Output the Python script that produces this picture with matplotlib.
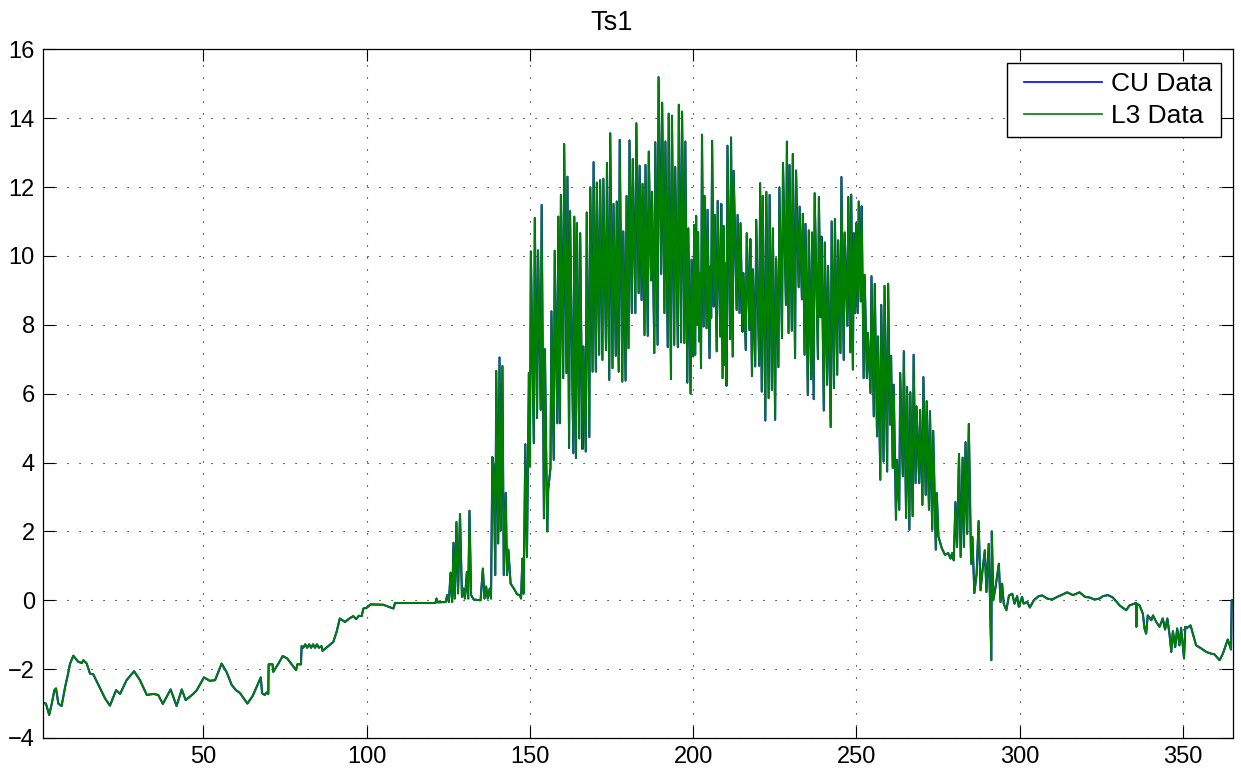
import numpy as np
import matplotlib
matplotlib.use("Agg")
import matplotlib.pyplot as plt
from matplotlib.legend_handler import HandlerLine2D

# ---- data (day of year, Ts1) ----
winter_day = [1.0, 1.8, 2.8, 3.6, 4.4, 4.9, 5.6, 6.6, 7.7, 8.5, 9.2, 10.2, 11.7, 12.8, 13.3,
              14.3, 15.3, 16.3, 18.4, 19.9, 21.4, 23.3, 24.5, 26.5, 28.8, 30.6, 32.7, 34.7,
              36.2, 37.6, 38.8, 40.0, 41.8, 43.4, 44.6, 46.9, 48.0, 50.2, 52.0, 53.6, 55.6,
              57.1, 58.7, 60.0, 61.2, 63.5, 65.1, 67.6, 68.0, 68.8, 69.4, 69.9, 70.0, 71.2,
              71.4, 73.0, 74.3, 75.7, 78.4, 78.8, 79.9, 80.1, 80.6, 81.2, 81.8, 82.4, 83.0,
              83.6, 84.2, 84.8, 85.4, 86.2, 86.5, 89.8, 90.8, 91.8, 93.4, 94.7, 95.9, 96.8,
              97.6, 98.5, 99.0, 100.0, 101.2, 105.1, 108.2, 108.7, 116.3]
winter_val = [-2.98, -3.0, -3.33, -3.0, -2.61, -2.56, -3.0, -3.07, -2.51, -2.17, -1.84, -1.61,
              -1.79, -1.82, -1.74, -1.84, -2.13, -2.15, -2.56, -2.85, -3.06, -2.61, -2.72,
              -2.32, -2.06, -2.32, -2.75, -2.72, -2.75, -3.01, -2.8, -2.59, -3.07, -2.59,
              -2.9, -2.72, -2.61, -2.24, -2.34, -2.32, -1.84, -2.08, -2.46, -2.61, -2.69,
              -3.0, -2.78, -2.24, -2.7, -2.75, -2.68, -2.72, -1.86, -1.86, -2.08, -1.84,
              -1.62, -1.69, -2.03, -1.86, -1.86, -1.33, -1.38, -1.28, -1.38, -1.28, -1.38,
              -1.28, -1.38, -1.28, -1.38, -1.33, -1.47, -1.21, -0.92, -0.53, -0.63, -0.53,
              -0.46, -0.55, -0.45, -0.46, -0.24, -0.22, -0.12, -0.13, -0.24, -0.08, -0.08]

spring_day = [116.5, 121.1, 121.4, 121.8, 124.2, 124.7, 125.2, 125.7, 126.2, 126.6, 127.0,
              127.5, 128.0, 128.6, 129.2, 129.6, 130.1, 130.7, 131.1, 131.5, 132.0, 132.8,
              134.9, 135.6, 136.1, 136.6, 137.1, 137.7, 138.1, 138.5, 138.9, 139.4, 139.7,
              140.3, 140.7, 141.1, 141.6, 142.0, 142.6, 143.0, 143.4, 144.1, 145.1, 146.1,
              146.9, 147.3, 147.7, 148.1, 148.6, 149.1, 149.7]
spring_val = [-0.08, -0.08, 0.05, -0.06, -0.05, 0.15, -0.05, 0.8, -0.05, 1.67, 0.05, 2.27,
              0.2, 2.5, 0.1, 0.34, 0.05, 0.82, 0.05, 2.6, 0.15, 0.02, 0.0, 0.92, 0.05, 0.4,
              0.05, 0.34, 0.05, 4.16, 3.9, 0.73, 6.66, 1.65, 7.05, 2.03, 6.8, 0.73, 3.12,
              0.73, 1.47, 0.48, 0.34, 0.17, 0.15, 0.05, 1.21, 0.19, 4.53, 1.26, 6.6]

# summer: one up/down swing per entry (day, daily low, daily high)
summer_day = [150.0, 151.2, 152.2, 153.3, 154.3, 155.3, 156.3, 157.3, 158.4, 159.2, 160.2,
              161.2, 162.0, 163.3, 164.1, 165.1, 166.1, 167.1, 168.2, 169.2, 170.2, 171.2,
              172.2, 173.3, 174.3, 175.3, 176.3, 177.2, 178.3, 179.3, 180.2, 181.2, 182.3,
              183.3, 184.2, 185.1, 186.1, 187.1, 188.1, 189.1, 190.2, 191.2, 192.2, 193.2,
              194.2, 195.3, 196.3, 197.3, 198.2, 199.2, 200.0, 200.6, 201.2, 201.8, 202.4,
              203.2, 204.1, 205.0, 205.5, 206.3, 207.2, 208.3, 209.0, 209.6, 210.2, 211.3,
              212.1, 213.3, 214.2, 215.1, 216.1, 217.2, 218.0, 219.0, 220.2, 221.0, 222.1,
              223.1, 224.1, 225.1, 226.1, 227.2, 228.4, 229.2, 230.2, 231.2, 232.3, 233.3,
              234.1, 235.1, 236.1, 236.9, 238.2, 239.0, 240.0, 241.0, 242.1, 243.1, 244.1,
              245.1, 246.1, 247.2, 248.1, 248.9, 249.6, 250.4, 251.3, 252.2, 253.2, 254.3,
              255.3, 256.3, 257.3, 258.3, 259.4, 260.3, 261.1, 262.1, 263.1, 264.2, 265.2,
              266.2, 267.2, 268.1, 269.2, 270.2, 271.2, 272.2, 273.2, 274.3]
summer_low = [3.88, 4.56, 5.29, 5.53, 2.38, 2.0, 3.84, 4.08, 5.14, 5.14, 6.45, 6.6, 4.42,
              4.27, 4.13, 4.7, 4.39, 4.32, 4.74, 6.64, 6.64, 7.13, 6.98, 7.27, 6.4, 6.74, 7.1,
              6.64, 6.35, 6.38, 7.32, 8.34, 8.34, 8.92, 8.72, 7.7, 7.68, 9.29, 7.18, 7.42,
              9.48, 8.34, 7.35, 6.42, 7.42, 7.35, 7.49, 7.47, 6.32, 6.0, 7.08, 7.13, 8.0,
              7.52, 6.74, 7.95, 7.9, 7.03, 8.2, 8.53, 7.23, 7.66, 6.45, 6.84, 6.23, 7.58,
              7.08, 8.43, 8.34, 7.8, 7.27, 7.85, 6.51, 6.79, 6.81, 6.06, 5.22, 5.87, 6.11,
              5.24, 6.77, 7.61, 8.58, 7.76, 7.83, 7.03, 9.09, 8.74, 7.13, 5.96, 6.42, 5.84,
              7.0, 8.22, 5.51, 6.26, 5.03, 6.16, 6.55, 7.18, 6.98, 7.97, 7.2, 6.7, 8.34, 8.34,
              8.68, 6.45, 6.45, 6.02, 5.34, 4.76, 3.5, 4.03, 3.74, 5.1, 3.84, 2.34, 2.63, 3.6,
              2.39, 2.05, 2.44, 3.4, 3.4, 2.77, 3.06, 2.63, 2.05, 1.47]
summer_high = [10.13, 11.1, 10.16, 11.48, 7.29, 3.2, 8.39, 10.15, 11.14, 11.77, 13.25, 12.3,
               11.3, 11.14, 10.95, 10.66, 7.37, 11.26, 11.99, 12.72, 12.13, 12.2, 12.24, 12.7,
               13.56, 11.51, 11.58, 13.37, 10.71, 11.74, 13.35, 12.81, 13.85, 12.62, 12.09,
               12.64, 13.03, 11.86, 13.3, 15.19, 14.45, 13.32, 14.13, 14.07, 12.58, 14.39,
               14.19, 13.32, 10.8, 9.89, 10.9, 11.16, 10.69, 9.5, 13.52, 11.74, 11.34, 9.69,
               13.34, 11.19, 11.6, 11.51, 10.87, 9.8, 13.2, 13.44, 12.47, 11.19, 10.95, 9.5,
               10.66, 10.49, 9.61, 11.05, 12.11, 11.74, 11.86, 11.77, 10.8, 9.93, 11.99, 12.7,
               13.32, 12.64, 12.96, 12.48, 11.43, 11.22, 10.93, 10.74, 10.68, 11.82, 11.71,
               10.56, 10.39, 9.71, 11.0, 11.07, 10.45, 12.29, 10.68, 11.71, 11.78, 10.66,
               10.95, 11.58, 11.44, 9.45, 7.76, 9.41, 9.19, 7.66, 8.58, 9.13, 9.19, 7.1, 6.26,
               4.08, 6.6, 7.23, 6.19, 6.04, 7.13, 5.63, 5.53, 6.48, 5.78, 5.49, 4.92, 3.11]

autumn_day = [275.1, 276.1, 277.1, 278.1, 278.8, 279.3, 279.8, 280.3, 280.8, 281.4, 281.9,
              282.5, 282.9, 283.4, 283.9, 284.4, 285.1, 285.5, 286.1, 286.8, 287.4, 288.0,
              288.6, 289.3, 289.8, 290.5, 291.0, 291.3, 291.45, 291.9, 292.6, 293.6, 294.1,
              294.6, 295.1, 295.9, 296.7, 297.7, 298.4, 299.2, 299.7, 300.7, 301.2, 302.3,
              303.1, 304.3, 305.8, 306.9, 308.4, 309.9, 311.5, 312.5, 314.5, 316.3, 318.3,
              320.0, 321.4, 322.9, 324.4, 325.5, 327.0, 328.5, 330.6, 332.6, 333.6, 335.6,
              335.7, 335.8, 336.7, 337.7, 338.2, 338.7, 339.2, 340.3, 340.8, 341.8, 342.8,
              343.8, 344.5, 345.2, 345.9, 346.4, 346.9, 347.6, 348.2, 348.9, 349.4, 350.3,
              350.7, 351.3, 352.3, 353.0, 354.0, 355.6, 357.1, 358.6, 359.6, 361.2, 362.2,
              363.7, 364.7, 364.9, 365.3]
autumn_val = [1.85, 1.52, 1.32, 1.37, 1.21, 1.37, 1.16, 2.85, 1.55, 4.25, 1.26, 4.14, 1.55,
              4.59, 1.93, 5.12, 1.06, 1.84, 0.21, 0.77, 2.3, 0.29, 0.87, 1.45, 0.24, 1.64,
              -0.39, -1.74, 2.0, 0.0, 0.39, 1.06, -0.05, 0.48, -0.1, -0.29, 0.14, 0.19, -0.1,
              0.12, -0.19, 0.1, -0.1, -0.05, -0.21, 0.0, 0.12, 0.14, 0.05, 0.02, 0.1, 0.14,
              0.23, 0.15, 0.23, 0.1, 0.08, 0.02, 0.05, 0.12, 0.15, 0.08, -0.15, -0.29, -0.15,
              -0.08, -0.77, -0.1, -0.15, -0.39, -0.82, -0.97, -0.44, -0.58, -0.44, -0.63,
              -0.77, -0.53, -0.85, -0.53, -1.02, -1.5, -0.9, -1.36, -0.82, -1.31, -0.8, -1.69,
              -0.77, -0.8, -0.73, -0.97, -1.31, -1.4, -1.5, -1.55, -1.57, -1.74, -1.55, -1.14,
              -1.43, 0.0, 0.0]

x_ticks = [50, 100, 150, 200, 250, 300, 350]
y_ticks = [-4, -2, 0, 2, 4, 6, 8, 10, 12, 14, 16]
series_labels = ["CU Data", "L3 Data"]
title_text = "Ts1"

# ---- assemble the series ----
sx, sy = [], []
for d, lo, hi in zip(summer_day, summer_low, summer_high):
    sx += [d, d + 0.3]
    sy += [lo, hi]
days = np.array(winter_day + spring_day + sx + autumn_day)
vals = np.array(winter_val + spring_val + sy + autumn_val)


class LeadLine(HandlerLine2D):
    """Legend line with extra empty space before it (MATLAB-like legend padding)."""
    lead = 6.0  # points

    def get_xdata(self, legend, xdescent, ydescent, width, height, fontsize):
        xd, xm = super().get_xdata(legend, xdescent, ydescent, width, height, fontsize)
        return [-xdescent + self.lead, -xdescent + width], xm


plt.rcParams['font.family'] = ['Liberation Sans', 'DejaVu Sans']
fig = plt.figure(figsize=(12.41, 7.81), dpi=100)
W, H = 1241, 781
ax = fig.add_axes([43.3 / W, 1 - 738 / H, (1233 - 43.3) / W, (738 - 49.3) / H])

l_cu, = ax.plot(days, vals, color='#0000ff', lw=1.5, label=series_labels[0])
l_l3, = ax.plot(days, vals, color='#008000', lw=1.35, label=series_labels[1])

ax.set_xlim(1, 365.3)
ax.set_ylim(-4, 16)
ax.set_xticks(x_ticks)
ax.set_yticks(y_ticks)
ax.tick_params(direction='in', length=8.5, width=0.8, top=True, right=True,
               labelsize=17, pad=6, colors='black')
ax.grid(True, color='black', linestyle=(0, (1, 9.8)), lw=0.8)
for s in ax.spines.values():
    s.set_linewidth(0.9)
    s.set_color('black')

ax.set_title(title_text, fontsize=19.5, x=(612 - 43.3) / (1233 - 43.3), pad=14)

leg = ax.legend(loc='upper right', bbox_to_anchor=(1221 / W, 1 - 63.3 / H),
                bbox_transform=fig.transFigure, borderaxespad=0, fontsize=19,
                fancybox=False, shadow=False, framealpha=1, edgecolor='black',
                handlelength=3.3, handletextpad=0.34, borderpad=0.32, labelspacing=0.32,
                handler_map={l_cu: LeadLine(), l_l3: LeadLine()})
leg.get_frame().set_linewidth(1.0)
for h in leg.get_lines():
    h.set_linewidth(1.2)

fig.savefig('out.png', dpi=100)
